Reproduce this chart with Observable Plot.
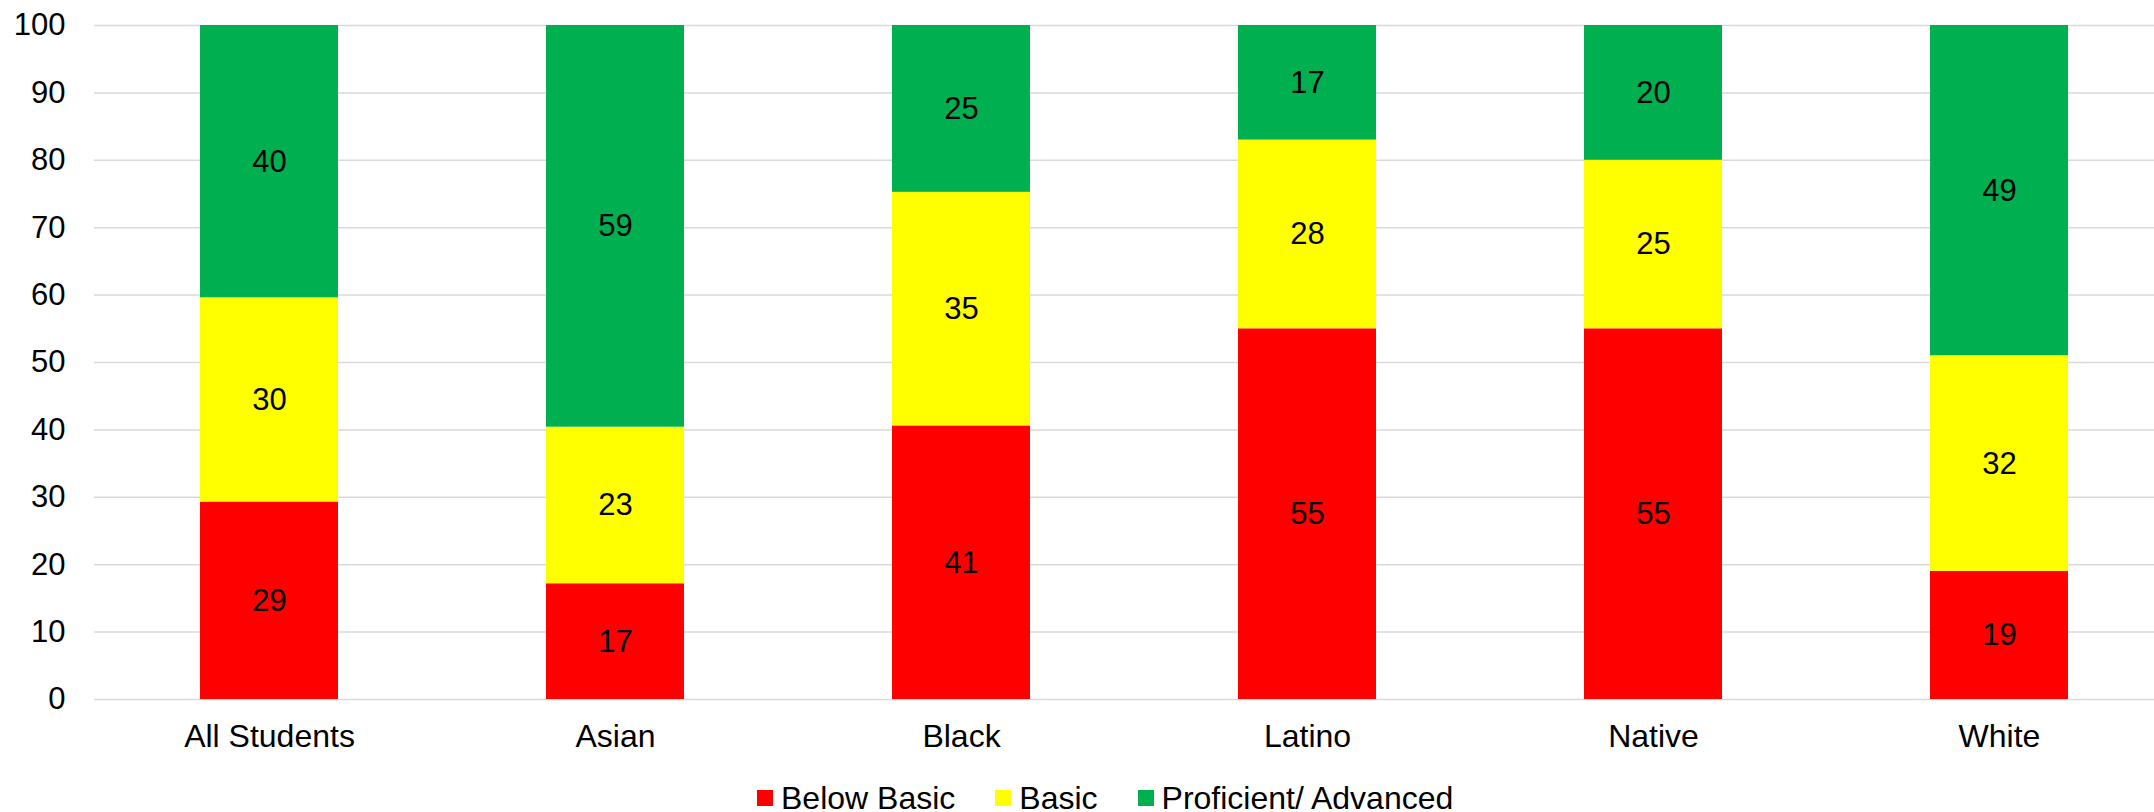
<!DOCTYPE html>
<html>
<head>
<meta charset="utf-8">
<script src="https://cdn.jsdelivr.net/npm/d3@7"></script>
<script src="https://cdn.jsdelivr.net/npm/@observablehq/plot@0.6"></script>
<style>
  html, body { margin: 0; padding: 0; background: #fff; }
  body { width: 2154px; height: 812px; overflow: hidden; font-family: "Liberation Sans", Arial, sans-serif; color: #000; }
  #legend { display: flex; align-items: center; height: 32px; margin-top: 22px; padding-left: 757px; font-size: 32px; }
  .item { display: flex; align-items: center; margin-right: 40px; white-space: nowrap; }
  .swatch { width: 16px; height: 16px; margin-right: 8px; }
  #chart svg g[aria-label="x-axis tick label"] text,
  #chart svg g[aria-label="x-axis"] text { font-size: 32px; }
</style>
</head>
<body>
<div id="chart"></div>
<div id="legend"></div>
<script>
// Student groups along the x axis
const groups = ["All Students", "Asian", "Black", "Latino", "Native", "White"];

// Achievement levels, stacked from the bottom up
const levels = ["Below Basic", "Basic", "Proficient/ Advanced"];
const levelColors = ["#FF0000", "#FFFF00", "#00B050"];

// Percent of students at each level, per group
const belowBasic = [29, 17, 41, 55, 55, 19];
const basic      = [30, 23, 35, 28, 25, 32];
const proficient = [40, 59, 25, 17, 20, 49];

// Y axis tick labels (percent)
const yTicks = [0, 10, 20, 30, 40, 50, 60, 70, 80, 90, 100];

const series = [belowBasic, basic, proficient];
const rows = levels.flatMap((level, i) =>
  groups.map((group, j) => ({ group, level, value: series[i][j] }))
);

const stackOpts = { offset: "normalize", x: "group", y: "value", z: "level" };

const chart = Plot.plot({
  width: 2154,
  height: 760,
  marginTop: 25,
  marginBottom: 61,
  marginLeft: 94,
  marginRight: 0,
  style: { fontFamily: "'Liberation Sans', Arial, sans-serif", fontSize: "31px", color: "#000", background: "#fff" },
  x: {
    domain: groups,
    range: [94, 2175],
    paddingInner: 0.6,
    paddingOuter: 0.3,
    tickSize: 0,
    tickPadding: 25,
    label: null
  },
  y: {
    domain: [0, 1],
    ticks: yTicks.map(t => t / 100),
    tickFormat: d => String(Math.round(d * 100)),
    tickSize: 0,
    tickPadding: 29,
    label: null
  },
  color: { domain: levels, range: levelColors },
  marks: [
    Plot.ruleY(yTicks, { y: d => d / 100, stroke: "#d9d9d9", strokeWidth: 1.5 }),
    Plot.barY(rows, Plot.stackY({ ...stackOpts, fill: "level" })),
    Plot.text(rows, Plot.stackY({ ...stackOpts, text: d => String(d.value), fill: "#000", fontSize: 31 }))
  ]
});
document.getElementById("chart").appendChild(chart);

// Legend row beneath the chart
const legend = d3.select("#legend");
levels.forEach((level, i) => {
  const item = legend.append("div").attr("class", "item");
  item.append("div").attr("class", "swatch").style("background", levelColors[i]);
  item.append("span").text(level);
});
</script>
</body>
</html>
